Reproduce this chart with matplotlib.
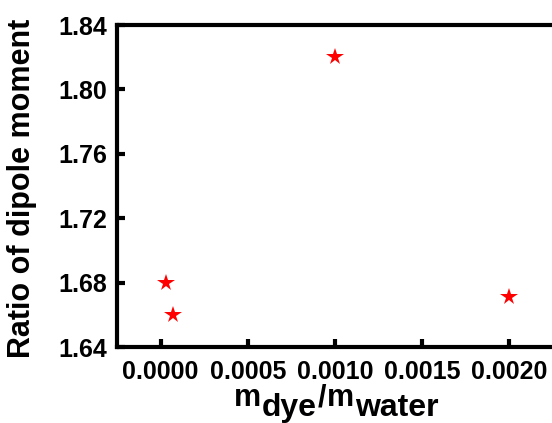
import matplotlib
matplotlib.use("Agg")
import matplotlib.pyplot as plt
from matplotlib.transforms import IdentityTransform

x_vals = [0.00003, 0.00007, 0.0010, 0.0020]
y_vals = [1.680, 1.660, 1.820, 1.671]
x_ticks = [0.0000, 0.0005, 0.0010, 0.0015, 0.0020]
y_ticks = [1.64, 1.68, 1.72, 1.76, 1.80, 1.84]
xlabel_parts = [("m", False), ("dye", True), ("/", False), ("m", False), ("water", True)]

plt.rcParams['font.family'] = ['Liberation Sans', 'DejaVu Sans']
plt.rcParams['font.weight'] = 'bold'

W, H = 552, 423
fig = plt.figure(figsize=(W / 100, H / 100), dpi=100)
ax = fig.add_axes([117 / W, 76 / H, 436 / W, 322 / H])
ax.plot(x_vals, y_vals, linestyle='none', marker='*', color='red',
        markersize=13, markeredgewidth=0)

ax.set_xlim(-0.00025, 0.00225)
ax.set_ylim(1.64, 1.84)
ax.set_xticks(x_ticks)
ax.set_xticklabels([f"{v:.4f}" for v in x_ticks])
ax.set_yticks(y_ticks)
ax.set_yticklabels([f"{v:.2f}" for v in y_ticks])
ax.spines['right'].set_visible(False)
for s in ['left', 'top', 'bottom']:
    ax.spines[s].set_linewidth(3)
ax.tick_params(direction='in', width=3, length=6, labelsize=18, pad=7)
ax.tick_params(axis='x', pad=9)
ax.set_ylabel('Ratio of dipole moment', fontsize=22, fontweight='bold')
ax.yaxis.set_label_coords((37 - 117) / 436, (H - 188 - 76) / 322)

# x label built from pieces (main text + subscripts)
renderer = fig.canvas.get_renderer()
main_size, sub_size = 22, 23
baseline = H - 406
sub_drop = 10
pieces = []
cur = 0.0
for txt, is_sub in xlabel_parts:
    t = fig.text(0, 0, txt, fontsize=sub_size if is_sub else main_size,
                 fontweight='bold', transform=IdentityTransform(),
                 ha='left', va='baseline')
    w = t.get_window_extent(renderer).width
    pieces.append((t, cur, is_sub))
    cur += w + 1
total = cur - 1
x0 = 336 - total / 2
for t, off, is_sub in pieces:
    t.set_position((x0 + off, baseline - (sub_drop if is_sub else 0)))

fig.savefig('out.png', dpi=100)
